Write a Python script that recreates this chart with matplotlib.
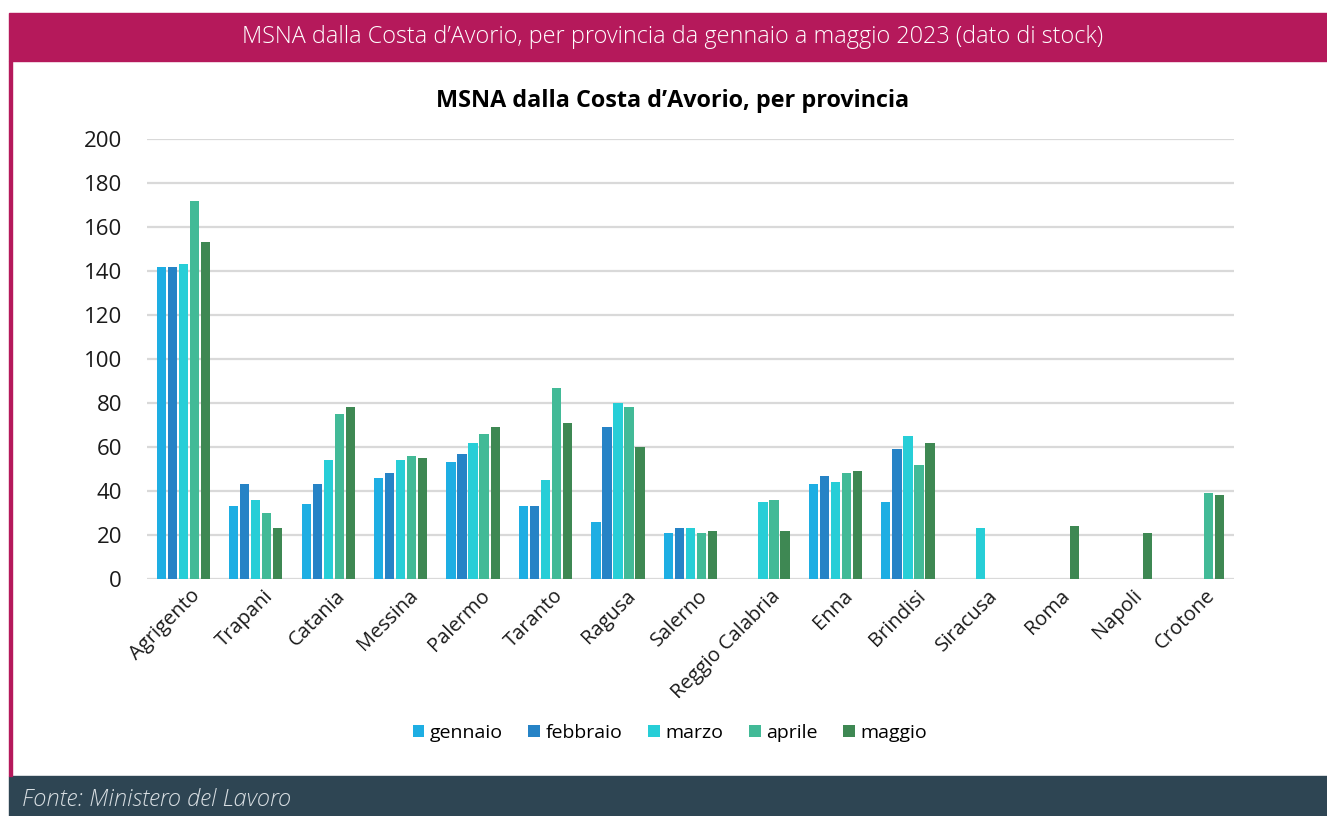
import matplotlib.pyplot as plt
import matplotlib.patches as patches
import numpy as np

plt.rcParams['font.family'] = ['Open Sans', 'DejaVu Sans']

provinces = ['Agrigento', 'Trapani', 'Catania', 'Messina', 'Palermo', 'Taranto',
             'Ragusa', 'Salerno', 'Reggio Calabria', 'Enna', 'Brindisi',
             'Siracusa', 'Roma', 'Napoli', 'Crotone']
months = ['gennaio', 'febbraio', 'marzo', 'aprile', 'maggio']

gennaio  = [142, 33, 34, 46, 53, 33, 26, 21, 0, 43, 35, 0, 0, 0, 0]
febbraio = [142, 43, 43, 48, 57, 33, 69, 23, 0, 47, 59, 0, 0, 0, 0]
marzo    = [143, 36, 54, 54, 62, 45, 80, 23, 35, 44, 65, 23, 0, 0, 0]
aprile   = [172, 30, 75, 56, 66, 87, 78, 21, 36, 48, 52, 0, 0, 0, 39]
maggio   = [153, 23, 78, 55, 69, 71, 60, 22, 22, 49, 62, 0, 24, 21, 38]

series = [gennaio, febbraio, marzo, aprile, maggio]
colors = ['#1EAEE3', '#2683C6', '#27CED7', '#42BA97', '#3E8853']

W, H = 1327, 816
fig = plt.figure(figsize=(W / 100, H / 100), dpi=100)

# header band, footer band, left border
fig.patches.append(patches.Rectangle((9 / W, 1 - 61 / H), 1 - 9 / W, 48 / H,
                                     transform=fig.transFigure, color='#B5195B', zorder=0))
fig.patches.append(patches.Rectangle((9 / W, 0), 1 - 9 / W, 40 / H,
                                     transform=fig.transFigure, color='#2E4553', zorder=0))
fig.patches.append(patches.Rectangle((9 / W, 40 / H), 2.5 / W, (776 - 61) / H,
                                     transform=fig.transFigure, color='#B5195B', zorder=0))

fig.text(673 / W, 1 - 37 / H,
         "MSNA dalla Costa d\u2019Avorio, per provincia da gennaio a maggio 2023 (dato di stock)",
         ha='center', va='center', color='white', fontsize=16.8, fontweight='light')
fig.text(22 / W, 16 / H, 'Fonte: Ministero del Lavoro', ha='left', va='center',
         color='#D8DEE2', fontsize=17, style='italic', fontweight='light')

ax = fig.add_axes([147 / W, 1 - 579 / H, (1234 - 147) / W, (579 - 139) / H])
x = np.arange(len(provinces))
slot = 0.152
for i, (vals, c, m) in enumerate(zip(series, colors, months)):
    ax.bar(x + (i - 2) * slot, vals, width=slot * 0.84, color=c, label=m, zorder=3)

ax.set_xlim(-0.5, len(provinces) - 0.5)
ax.set_ylim(0, 200)
ax.set_yticks(range(0, 201, 20))
ax.grid(axis='y', color='#D9D9D9', linewidth=1.6, zorder=0)
for s in ax.spines.values():
    s.set_visible(False)
ax.tick_params(axis='both', length=0, labelsize=14.5, colors='#1a1a1a')
ax.tick_params(axis='y', pad=18, labelsize=16)
ax.set_xticks(x + 0.1)
ax.set_xticklabels(provinces, rotation=45, ha='right', rotation_mode='anchor')
ax.tick_params(axis='x', pad=5)

fig.text(673 / W, 1 - 101 / H, "MSNA dalla Costa d\u2019Avorio, per provincia",
         ha='center', va='center', fontsize=16.8, fontweight='bold', color='black')

leg = fig.legend(loc='center', bbox_to_anchor=(670 / W, 1 - 733 / H), ncol=5,
                 frameon=False, fontsize=14, handlelength=0.6, handleheight=0.6,
                 handletextpad=0.3, columnspacing=1.3)

fig.savefig('out.png', dpi=100)
